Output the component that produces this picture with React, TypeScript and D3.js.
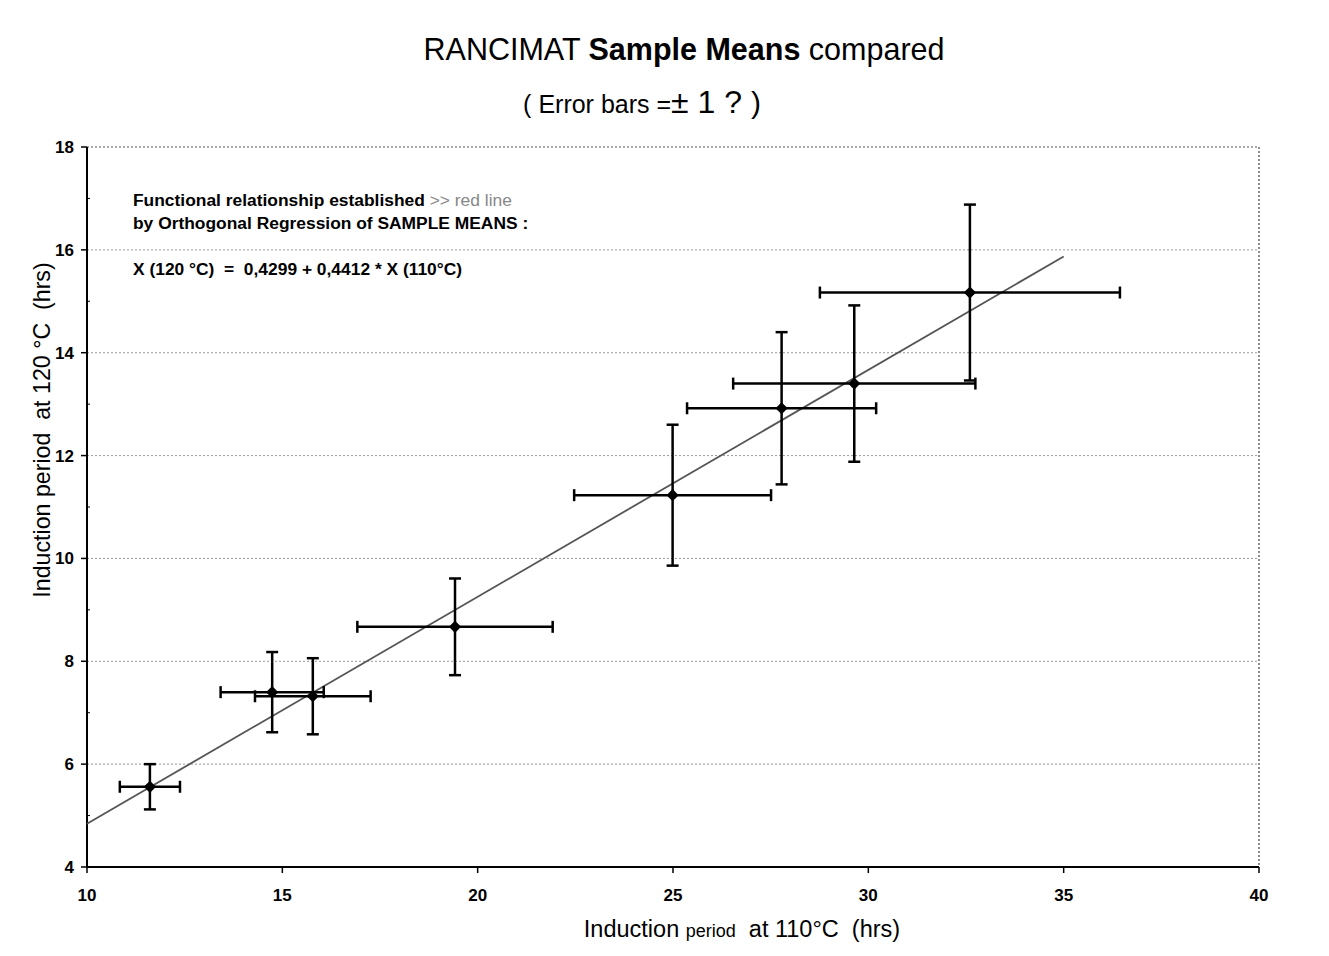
import React, { useEffect, useRef } from 'react';
import * as d3 from 'd3';

// Sample means at 110 °C (x) and 120 °C (y), with ±1 error bars
const MEAN_110 = [11.61, 14.74, 15.78, 19.42, 24.99, 27.78, 29.64, 32.6];
const MEAN_120 = [5.56, 7.4, 7.32, 8.67, 11.23, 12.92, 13.4, 15.17];
const ERR_110 = [0.77, 1.32, 1.48, 2.5, 2.52, 2.42, 3.1, 3.84];
const ERR_120 = [0.44, 0.78, 0.74, 0.94, 1.37, 1.48, 1.52, 1.71];

const X_TICKS = [10, 15, 20, 25, 30, 35, 40];
const Y_TICKS = [4, 6, 8, 10, 12, 14, 16, 18];
const Y_MINOR = [5, 7, 9, 11, 13, 15, 17];

// Orthogonal regression: X(120) = a + b * X(110)
const FIT_A = 0.4299;
const FIT_B = 0.4412;
const FIT_RANGE = [10, 35];

const App: React.FC = () => {
  const svgRef = useRef<SVGSVGElement>(null);

  useEffect(() => {
    if (!svgRef.current) return;

    const width = 1329;
    const height = 956;
    const font = 'Liberation Sans, Arial, sans-serif';

    const svg = d3.select(svgRef.current)
      .attr('viewBox', `0 0 ${width} ${height}`)
      .html('');

    svg.append('rect').attr('width', width).attr('height', height).attr('fill', '#fff');

    const x = d3.scaleLinear().domain([10, 40]).range([87, 1259]);
    const y = d3.scaleLinear().domain([4, 18]).range([867, 147]);

    // gridlines (dotted)
    svg.selectAll('.grid')
      .data(Y_TICKS.filter(t => t > 4))
      .enter()
      .append('line')
      .attr('x1', x(10)).attr('x2', x(40))
      .attr('y1', d => y(d)).attr('y2', d => y(d))
      .attr('stroke', d => d === 18 ? '#555' : '#999')
      .attr('stroke-width', 1)
      .attr('stroke-dasharray', '2,2');

    // right border dotted
    svg.append('line')
      .attr('x1', x(40)).attr('x2', x(40))
      .attr('y1', y(18)).attr('y2', y(4))
      .attr('stroke', '#444').attr('stroke-width', 1.2).attr('stroke-dasharray', '2,2');

    // axes
    svg.append('line')
      .attr('x1', x(10)).attr('x2', x(10)).attr('y1', y(18)).attr('y2', y(4))
      .attr('stroke', '#000').attr('stroke-width', 2);
    svg.append('line')
      .attr('x1', x(10)).attr('x2', x(40)).attr('y1', y(4)).attr('y2', y(4))
      .attr('stroke', '#000').attr('stroke-width', 2);

    // y ticks + labels
    Y_TICKS.forEach(t => {
      svg.append('line')
        .attr('x1', x(10) - 6).attr('x2', x(10)).attr('y1', y(t)).attr('y2', y(t))
        .attr('stroke', '#000').attr('stroke-width', 1.5);
      svg.append('text')
        .attr('x', 74).attr('y', y(t) + 6)
        .attr('text-anchor', 'end')
        .attr('font-family', font).attr('font-weight', 'bold').attr('font-size', '17px')
        .text(t);
    });
    Y_MINOR.forEach(t => {
      svg.append('line')
        .attr('x1', x(10)).attr('x2', x(10) + 3).attr('y1', y(t)).attr('y2', y(t))
        .attr('stroke', '#000').attr('stroke-width', 1);
    });

    // x ticks + labels
    X_TICKS.forEach(t => {
      svg.append('line')
        .attr('x1', x(t)).attr('x2', x(t)).attr('y1', y(4)).attr('y2', y(4) + 6)
        .attr('stroke', '#000').attr('stroke-width', 1.5);
      svg.append('text')
        .attr('x', x(t)).attr('y', 901)
        .attr('text-anchor', 'middle')
        .attr('font-family', font).attr('font-weight', 'bold').attr('font-size', '17px')
        .text(t);
    });

    // regression line
    svg.append('line')
      .attr('x1', x(FIT_RANGE[0])).attr('y1', y(FIT_A + FIT_B * FIT_RANGE[0]))
      .attr('x2', x(FIT_RANGE[1])).attr('y2', y(FIT_A + FIT_B * FIT_RANGE[1]))
      .attr('stroke', '#555').attr('stroke-width', 1.8);

    // error bars
    const data = MEAN_110.map((m, i) => ({ mx: m, my: MEAN_120[i], ex: ERR_110[i], ey: ERR_120[i] }));
    const g = svg.append('g').attr('stroke', '#000').attr('stroke-width', 2.5);
    data.forEach(d => {
      g.append('line')
        .attr('x1', x(d.mx - d.ex)).attr('x2', x(d.mx + d.ex)).attr('y1', y(d.my)).attr('y2', y(d.my));
      g.append('line')
        .attr('x1', x(d.mx)).attr('x2', x(d.mx)).attr('y1', y(d.my - d.ey)).attr('y2', y(d.my + d.ey));
      [d.mx - d.ex, d.mx + d.ex].forEach(v => {
        g.append('line')
          .attr('x1', x(v)).attr('x2', x(v)).attr('y1', y(d.my) - 6).attr('y2', y(d.my) + 6);
      });
      [d.my - d.ey, d.my + d.ey].forEach(v => {
        g.append('line')
          .attr('x1', x(d.mx) - 6).attr('x2', x(d.mx) + 6).attr('y1', y(v)).attr('y2', y(v));
      });
    });

    // diamond markers
    const diamond = d3.symbol().type(d3.symbolDiamond2).size(95);
    svg.selectAll('.pt')
      .data(data)
      .enter()
      .append('path')
      .attr('d', diamond)
      .attr('transform', d => `translate(${x(d.mx)},${y(d.my)})`)
      .attr('fill', '#000');

    // title
    const title = svg.append('text')
      .attr('x', 684).attr('y', 60)
      .attr('text-anchor', 'middle')
      .attr('font-family', font).attr('font-size', '30.5px');
    title.append('tspan').text('RANCIMAT ');
    title.append('tspan').attr('font-weight', 'bold').text('Sample Means');
    title.append('tspan').text(' compared');

    const sub = svg.append('text')
      .attr('x', 642).attr('y', 113)
      .attr('text-anchor', 'middle')
      .attr('font-family', font).attr('font-size', '25px');
    sub.append('tspan').text('( Error bars =');
    sub.append('tspan').attr('font-size', '32px').text('± 1 ? ');
    sub.append('tspan').attr('font-size', '30px').text(')');

    // annotation
    const ann = svg.append('g')
      .attr('font-family', font).attr('font-weight', 'bold').attr('font-size', '17.4px');
    const a1 = ann.append('text').attr('x', 133).attr('y', 206);
    a1.append('tspan').text('Functional relationship established ');
    a1.append('tspan').attr('font-weight', 'normal').attr('fill', '#888').text(' >> red line');
    ann.append('text').attr('x', 133).attr('y', 229).text('by Orthogonal Regression of SAMPLE MEANS :');
    ann.append('text').attr('x', 133).attr('y', 275)
      .style('white-space', 'pre')
      .text('X (120 °C)  =  0,4299 + 0,4412 * X (110°C)');

    // axis titles
    const xt = svg.append('text')
      .attr('x', 742).attr('y', 937)
      .attr('text-anchor', 'middle')
      .attr('font-family', font).attr('font-size', '23.5px');
    xt.append('tspan').text('Induction ');
    xt.append('tspan').attr('font-size', '18px').text('period');
    xt.append('tspan').style('white-space', 'pre').text('  at 110°C  (hrs)');

    svg.append('text')
      .attr('transform', `translate(50, 430) rotate(-90)`)
      .attr('text-anchor', 'middle')
      .attr('font-family', font).attr('font-size', '23.2px')
      .style('white-space', 'pre')
      .text('Induction period  at 120 °C  (hrs)');
  }, []);

  return (
    <svg
      ref={svgRef}
      width={1329}
      height={956}
      style={{ position: 'absolute', left: 0, top: 0, display: 'block' }}
    ></svg>
  );
};

export default App;
